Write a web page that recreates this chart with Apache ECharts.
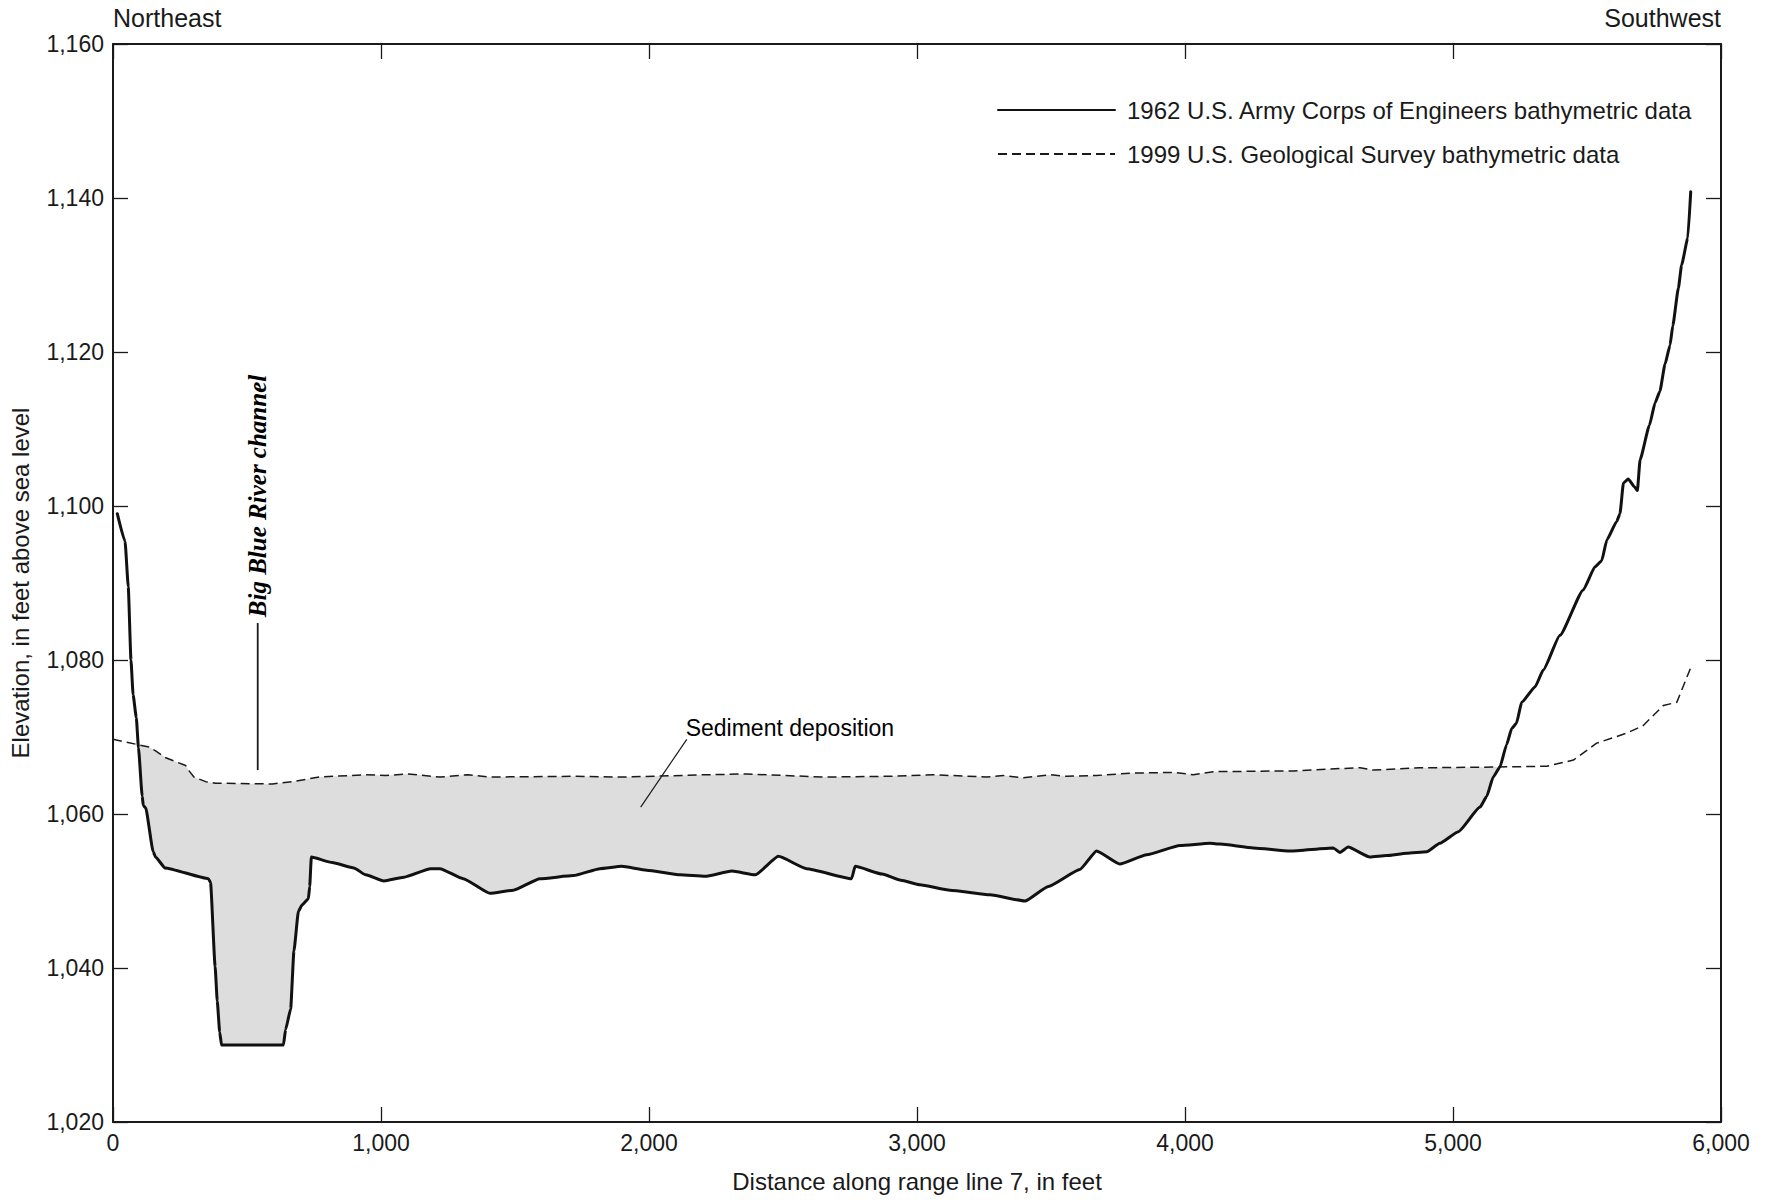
<!DOCTYPE html>
<html><head><meta charset="utf-8">
<script src="https://cdn.jsdelivr.net/npm/echarts@6/dist/echarts.min.js"></script>
<style>html,body{margin:0;padding:0;background:#fff}#c{width:1773px;height:1200px}</style>
</head><body><div id="c"></div>
<script>
// Distance (ft) / elevation (ft above sea level) pairs
const profile1962 = [
 [16,1099],[45,1095.4],[57,1089.5],[67,1080],[75,1075.5],[87,1072.5],[95,1068.6],[109,1062.3],[113,1061.1],[122,1060.8],
 [150,1055.1],[159,1054.4],[194,1053],[356,1051.6],[364,1051.1],[381,1040.2],[389,1035.7],[398,1031.7],[405,1030],[595,1030],
 [636,1030],[644,1032],[663,1034.7],[675,1042.2],[692,1047.4],[706,1048.2],[729,1049],[734,1050.6],[740,1054.4],[818,1053.7],
 [899,1053],[943,1052.1],[1011,1051.3],[1086,1051.8],[1185,1052.9],[1220,1052.9],[1307,1051.6],[1407,1049.7],[1494,1050.1],[1593,1051.6],
 [1718,1052],[1817,1052.9],[1898,1053.2],[1991,1052.7],[2116,1052.1],[2209,1051.9],[2309,1052.6],[2396,1052.1],[2483,1054.5],[2588,1052.9],
 [2756,1051.6],[2769,1053.2],[2870,1052.2],[2940,1051.4],[3011,1050.8],[3123,1050.1],[3272,1049.5],[3403,1048.7],[3490,1050.6],[3608,1052.8],
 [3670,1055.2],[3757,1053.5],[3857,1054.7],[3981,1055.9],[4093,1056.2],[4131,1056.1],[4255,1055.6],[4392,1055.2],[4553,1055.6],[4578,1055.0],
 [4609,1055.7],[4690,1054.4],[4752,1054.6],[4827,1054.9],[4902,1055.1],[4951,1056.2],[5020,1057.7],[5101,1060.9],[5126,1062.3],[5150,1064.8],
 [5175,1066.1],[5200,1069],[5219,1071.1],[5237,1071.8],[5256,1074.5],[5306,1076.5],[5337,1078.7],[5399,1083.2],[5486,1089.1],[5530,1092.1],
 [5555,1092.9],[5574,1095.6],[5611,1098],[5623,1099],[5636,1103],[5654,1103.5],[5677,1102.5],[5688,1102],[5698,1106],[5733,1110.5],
 [5754,1113.4],[5772,1114.9],[5791,1118.4],[5810,1120.9],[5820,1123.4],[5841,1128.3],[5853,1131.3],[5876,1134.8],[5887,1140.8]
];
const profile1999 = [
 [0,1069.7],[134,1068.7],[159,1068.2],[197,1067.3],[271,1066.3],[284,1065.6],[302,1064.8],[346,1064.2],[383,1064.0],[595,1063.9],
 [669,1064.2],[769,1064.8],[943,1065.1],[1017,1065.0],[1100,1065.2],[1220,1064.8],[1325,1065.1],[1407,1064.8],[1718,1064.9],[1904,1064.8],
 [2215,1065.1],[2364,1065.2],[2650,1064.8],[2900,1064.9],[3061,1065.1],[3260,1064.8],[3322,1065.0],[3397,1064.7],[3496,1065.1],[3558,1064.9],
 [3670,1065.0],[3794,1065.3],[3956,1065.4],[4031,1065.1],[4106,1065.5],[4404,1065.6],[4578,1065.9],[4653,1066.0],[4703,1065.7],[4877,1066.0],
 [5163,1066.1],[5350,1066.2],[5449,1067.0],[5536,1069.2],[5648,1070.5],[5710,1071.5],[5785,1074.1],[5835,1074.5],[5887,1079]
];
const seriesNames = ['1962 U.S. Army Corps of Engineers bathymetric data','1999 U.S. Geological Survey bathymetric data'];
const xRange = [0, 6000, 1000];
const yRange = [1020, 1160, 20];
const channelLabel = {text:'Big Blue River channel', at:[538,1101.3], leader:[[540,1084.8],[540,1065.7]]};
const sedimentLabel = {text:'Sediment deposition', at:[2135,1071.2], leader:[[2141,1069.7],[1969,1060.9]]};

function interp(p, x){
  if (x <= p[0][0]) return p[0][1];
  for (let i=1;i<p.length;i++){
    if (x <= p[i][0]){ const t=(x-p[i-1][0])/(p[i][0]-p[i-1][0]); return p[i-1][1]+t*(p[i][1]-p[i-1][1]); }
  }
  return p[p.length-1][1];
}
function depositionBand(){
  const lo = Math.max(profile1962[0][0], profile1999[0][0]);
  const hi = Math.min(profile1962[profile1962.length-1][0], profile1999[profile1999.length-1][0]);
  const xs = Array.from(new Set(profile1962.map(p=>p[0]).concat(profile1999.map(p=>p[0])))).filter(x=>x>=lo&&x<=hi).sort((a,b)=>a-b);
  const out = []; let prev = null;
  xs.forEach(x=>{
    const top = interp(profile1999,x), bot = interp(profile1962,x), d = top-bot;
    if (prev && ((prev.d>0)!==(d>0))){
      const xc = prev.x + (x-prev.x)*prev.d/(prev.d-d);
      const yc = interp(profile1999,xc);
      out.push([xc,yc,yc]);
    }
    if (d>0) out.push([x,top,bot]);
    prev = {x,d};
  });
  return out;
}
const band = depositionBand();
const FONT = 'Liberation Sans, Arial, sans-serif';
const INK = '#1a1a1a';
const fmt = v => Number(v).toLocaleString('en-US');

const chart = echarts.init(document.getElementById('c'), null, {renderer:'svg'});
const axisCommon = {
  axisLine:{show:true, onZero:false, lineStyle:{color:INK,width:2}},
  axisTick:{show:true, inside:true, length:15, lineStyle:{color:INK,width:1.3}},
  splitLine:{show:false}
};
const labelPlain = {textBorderWidth:0, textShadowBlur:0, opacity:1};
chart.setOption({
  animation:false,
  backgroundColor:'#fff',
  grid:{left:113,right:52,top:44,bottom:78,containLabel:false,outerBoundsMode:'none'},
  xAxis:[
    Object.assign({type:'value',min:xRange[0],max:xRange[1],interval:xRange[2],position:'bottom',
      name:'Distance along range line 7, in feet',nameLocation:'middle',nameGap:47,
      nameTextStyle:{fontFamily:FONT,fontSize:24,color:INK},
      axisLabel:{fontFamily:FONT,fontSize:23,color:INK,margin:9,formatter:fmt}},axisCommon),
    Object.assign({type:'value',min:xRange[0],max:xRange[1],interval:xRange[2],position:'top',axisLabel:{show:false}},axisCommon)
  ],
  yAxis:[
    Object.assign({type:'value',min:yRange[0],max:yRange[1],interval:yRange[2],position:'left',
      name:'Elevation, in feet above sea level',nameLocation:'middle',nameGap:81,
      nameTextStyle:{fontFamily:FONT,fontSize:24,color:INK},
      axisLabel:{fontFamily:FONT,fontSize:23,color:INK,margin:9,formatter:fmt}},axisCommon),
    Object.assign({type:'value',min:yRange[0],max:yRange[1],interval:yRange[2],position:'right',axisLabel:{show:false}},axisCommon)
  ],
  legend:{
    data:seriesNames, orient:'vertical', left:997, top:98, padding:0, itemWidth:117, itemHeight:14, itemGap:20,
    itemStyle:{opacity:0},
    textStyle:{fontFamily:FONT,fontSize:24,color:INK,padding:[0,0,0,7]}, selectedMode:false
  },
  graphic:[
    {type:'text',left:113,top:5,style:{text:'Northeast',font:'25px '+FONT,fill:INK}},
    {type:'text',right:52,top:5,style:{text:'Southwest',font:'25px '+FONT,fill:INK}}
  ],
  series:[
    {type:'custom', silent:true, z:1, xAxisIndex:0, yAxisIndex:0, data:[[0,1020]],
     renderItem:(params, api)=>{
       const pts = band.map(b=>api.coord([b[0],b[1]])).concat(band.slice().reverse().map(b=>api.coord([b[0],b[2]])));
       return {type:'polygon', shape:{points:pts}, style:{fill:'#dddddd',stroke:null}};
     }},
    {name:seriesNames[0], type:'line', z:4, data:profile1962, showSymbol:false, symbol:'none', smooth:0.15, smoothMonotone:'x',
     lineStyle:{color:'#111',width:3,join:'round',cap:'round'}, itemStyle:{color:'#111'}},
    {name:seriesNames[1], type:'line', z:3, data:profile1999, showSymbol:false, symbol:'none',
     lineStyle:{color:INK,width:1.5,type:[9,5]}, itemStyle:{color:INK}},
    {type:'line', z:3, silent:true, data:channelLabel.leader, showSymbol:false, symbol:'none', lineStyle:{color:INK,width:1.8}},
    {type:'line', z:3, silent:true, data:sedimentLabel.leader, showSymbol:false, symbol:'none', lineStyle:{color:INK,width:1.2}},
    {type:'scatter', z:5, silent:true, symbolSize:1, itemStyle:{color:'rgba(0,0,0,0)'},
     data:[channelLabel.at],
     label:Object.assign({show:true, position:'inside', rotate:90, formatter:channelLabel.text, fontFamily:'Liberation Serif, Times New Roman, serif',
       fontStyle:'italic', fontWeight:'bold', fontSize:25, color:'#000', align:'center', verticalAlign:'middle'},labelPlain)},
    {type:'scatter', z:5, silent:true, symbolSize:1, itemStyle:{color:'rgba(0,0,0,0)'},
     data:[sedimentLabel.at],
     label:Object.assign({show:true, position:'right', distance:0, formatter:sedimentLabel.text, fontFamily:FONT, fontSize:23, color:'#000', verticalAlign:'middle'},labelPlain)}
  ]
});
</script></body></html>
